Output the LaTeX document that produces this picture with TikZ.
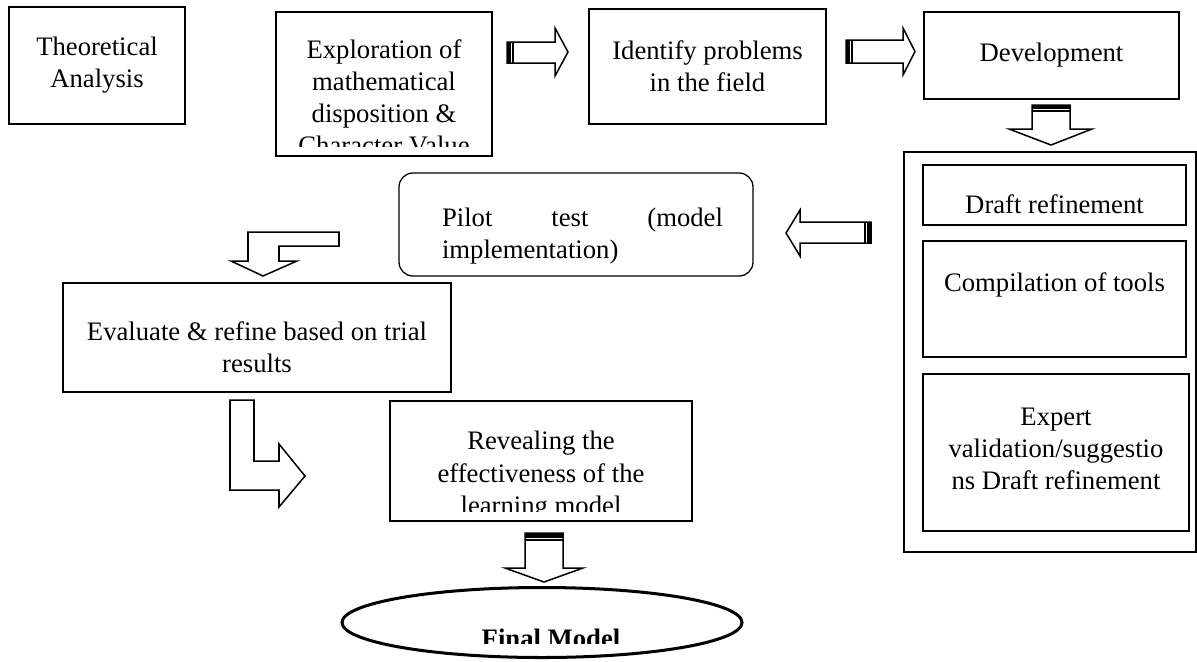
\documentclass[tikz,border=0pt]{standalone}
\usepackage{fontspec}
\setmainfont{Liberation Serif}
\usetikzlibrary{shapes.geometric}
\begin{document}
\begin{tikzpicture}[x=0.431pt,y=-0.431pt,line join=miter,
	box/.style={draw,line width=.55pt,inner sep=0pt},
	txt/.style={font=\fontsize{11.5}{13.8}\selectfont,align=center,inner sep=0pt},
	blk/.style={draw,line width=.65pt,fill=white},
	tail/.style={fill=black}]
	\def\pxu{0.431pt}
	\useasboundingbox (0,0) rectangle (1197,661);
	\node[box,txt,minimum width=176*\pxu,minimum height=117*\pxu] (theo) at (97,65.5) {Theoretical\\Analysis};
	\node[box,minimum width=216*\pxu,minimum height=144*\pxu] (expl) at (384,84) {};
	\begin{scope}
		\clip (276,12) rectangle (492,146);
		\node[txt,anchor=north] (explt) at (expl.north |- 0,39) {Exploration of\\mathematical\\disposition \&\\Character Value};
	\end{scope}
	\node[box,txt,minimum width=237*\pxu,minimum height=115*\pxu] (ident) at (707.5,66.5) {Identify problems\\in the field};
	\node[box,txt,minimum width=255*\pxu,minimum height=87*\pxu] (dev) at (1051.5,55.5) {Development};
	\node[box,minimum width=292*\pxu,minimum height=400*\pxu] (outer) at (1050,352) {};
	\node[box,minimum width=263*\pxu,minimum height=60*\pxu] (draft) at (1054.5,195) {};
	\node[txt,anchor=base] (draftt) at (1054.5,213) {Draft refinement};
	\node[box,minimum width=263*\pxu,minimum height=116*\pxu] (comp) at (1054.5,299) {};
	\node[txt,anchor=base] (compt) at (1054.5,291) {Compilation of tools};
	\node[box,minimum width=266*\pxu,minimum height=157*\pxu] (expert) at (1056,452.5) {};
	\node[txt] (expertt) at (1056,449) {Expert\\validation/suggestio\\ns Draft refinement};
	\node[box,rounded corners=6pt,minimum width=354*\pxu,minimum height=103*\pxu] (pilot) at (576,224.5) {};
	\node[txt,align=left,text width=121.1pt] (pilott) at (582.5,236) {\makebox[121.1pt]{Pilot\hfill test\hfill (model}\\implementation)};
	\node[box,minimum width=388*\pxu,minimum height=109*\pxu] (eval) at (257,337.5) {};
	\node[txt] (evalt) at (257,347) {Evaluate \& refine based on trial\\results};
	\node[box,minimum width=302*\pxu,minimum height=120*\pxu] (reveal) at (541,461) {};
	\begin{scope}
		\clip (390,401) rectangle (692,511);
		\node[txt,anchor=north] (revealt) at (reveal.north |- 0,431) {Revealing the\\effectiveness of the\\learning model};
	\end{scope}
	\node[draw,ellipse,line width=1.3pt,minimum width=400*\pxu,minimum height=70*\pxu] (final) at (542,622.5) {};
	\begin{scope}
		\clip (300,580) rectangle (800,643);
		\node[font=\fontsize{11.5}{13.8}\selectfont\bfseries,inner sep=0pt,anchor=base] (finalt) at (551,647) {Final Model};
	\end{scope}
	\draw[blk] (507,42) -- (555,42) -- (555,28) -- (568,52) -- (555,76) -- (555,63) -- (507,63) -- cycle;
	\fill[tail] (507,42) rectangle (511,63);
	\draw[line width=.5pt] (513,42) -- (513,63);
	\draw[blk] (846,40) -- (903,40) -- (903,28) -- (915,51.5) -- (903,75) -- (903,63) -- (846,63) -- cycle;
	\fill[tail] (846,40) rectangle (850,63);
	\draw[line width=.5pt] (852,40) -- (852,63);
	\draw[blk] (1032,105) -- (1070,105) -- (1070,129) -- (1092,129) -- (1051,145) -- (1009,129) -- (1032,129) -- cycle;
	\fill[tail] (1032,105) rectangle (1070,109);
	\draw[line width=.5pt] (1032,111) -- (1070,111);
	\draw[blk] (871,222) -- (800,222) -- (800,210) -- (786,233) -- (800,256) -- (800,243) -- (871,243) -- cycle;
	\fill[tail] (867,222) rectangle (871,243);
	\draw[line width=.5pt] (865,222) -- (865,243);
	\draw[blk] (248,232) -- (339,232) -- (339,246) -- (279,246) -- (279,261) -- (297,261) -- (263,276) -- (231,261) -- (248,261) -- cycle;
	\draw[blk] (230,400) -- (254,400) -- (254,461) -- (279,461) -- (279,444) -- (305,476) -- (279,507) -- (279,490) -- (230,490) -- cycle;
	\draw[blk] (525,533) -- (563,533) -- (563,568) -- (583,568) -- (544,582) -- (505,568) -- (525,568) -- cycle;
	\fill[tail] (525,533) rectangle (563,538);
	\draw[line width=.5pt] (525,540) -- (563,540);
\end{tikzpicture}
\end{document}
